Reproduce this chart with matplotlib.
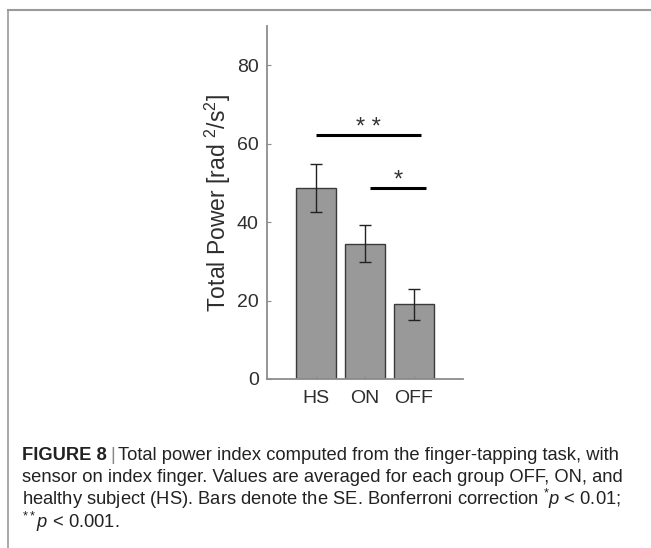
import matplotlib
matplotlib.use("Agg")
import matplotlib.pyplot as plt
from matplotlib.lines import Line2D

plt.rcParams['font.family'] = ['Liberation Sans', 'DejaVu Sans']
plt.rcParams['mathtext.fontset'] = 'custom'
plt.rcParams['mathtext.rm'] = 'Liberation Sans'
plt.rcParams['mathtext.it'] = 'Liberation Sans:italic'
plt.rcParams['mathtext.default'] = 'regular'

# data
groups = ['HS', 'ON', 'OFF']
power = [48.8, 34.5, 19.0]
se = [6.1, 4.7, 4.0]

# significance bars: (x start, x end, height, label)
sig_x0 = [1.0, 2.1]
sig_x1 = [3.14, 3.24]
sig_y = [62.2, 48.7]
sig_lab = ['* *', '*']

txt = '#2e2e2e'
axc = '#8c8c8c'

fig = plt.figure(figsize=(6.51, 5.48), dpi=100)
ax = fig.add_axes([0.4101, 0.3084, 0.3011, 0.6442])

x = [1, 2, 3]
ax.bar(x, power, width=0.8, color='#999999', edgecolor='#3a3a3a', linewidth=1.0)
ax.errorbar(x, power, yerr=se, fmt='none', ecolor='#222222', elinewidth=1.0,
            capsize=4.5, capthick=1.0)

for x0, x1, y, lab in zip(sig_x0, sig_x1, sig_y, sig_lab):
    ax.plot([x0, x1], [y, y], color='black', lw=2.2, solid_capstyle='butt')
    ax.text((x0 + x1) / 2, y + 0.3, lab, ha='center', va='baseline',
            fontsize=17, color='#333333')

ax.set_xlim(0, 4)
ax.set_ylim(0, 90)
ax.set_xticks(x)
ax.set_xticklabels(groups)
ax.set_yticks([0, 20, 40, 60, 80])
ax.tick_params(direction='in', length=3, width=0.8, color=axc,
               labelsize=14, labelcolor=txt, pad=6)
ax.tick_params(axis='x', pad=8)
for s in ['top', 'right']:
    ax.spines[s].set_visible(False)
for s in ['left', 'bottom']:
    ax.spines[s].set_color(axc)
    ax.spines[s].set_linewidth(1.3)
ax.set_ylabel('Total Power [rad $^2$/s$^2$]', fontsize=16.5, color=txt, labelpad=3)

# frame around the figure panel
fig.add_artist(Line2D([8 / 651, 8 / 651], [0, 1 - 10 / 548], color='#9a9a9a', lw=1.2))
fig.add_artist(Line2D([8 / 651, 1], [1 - 10 / 548, 1 - 10 / 548], color='#9a9a9a', lw=1.5))

# caption
fs = 13.2
cx = 22 / 651
r = fig.canvas.get_renderer()
y1 = 1 - 455 / 548
t = fig.text(cx, y1, 'FIGURE 8', fontsize=fs, fontweight='bold', color='#222222', va='center')
bb = t.get_window_extent(renderer=r)
t2 = fig.text(bb.x1 / 651 + 3 / 651, y1, '|', fontsize=fs, color='#888888', va='center')
bb2 = t2.get_window_extent(renderer=r)
fig.text(bb2.x1 / 651 + 3 / 651, y1,
         'Total power index computed from the finger-tapping task, with',
         fontsize=fs, color='#222222', va='center')

lines = ['sensor on index finger. Values are averaged for each group OFF, ON, and',
         r'healthy subject (HS). Bars denote the SE. Bonferroni correction $^{*}\mathit{p}$ < 0.01;',
         r'$^{**}\mathit{p}$ < 0.001.']
for i, ln in enumerate(lines):
    fig.text(cx, 1 - (477 + 22.3 * i) / 548, ln, fontsize=fs, color='#222222', va='center')

fig.savefig('out.png', dpi=100)
